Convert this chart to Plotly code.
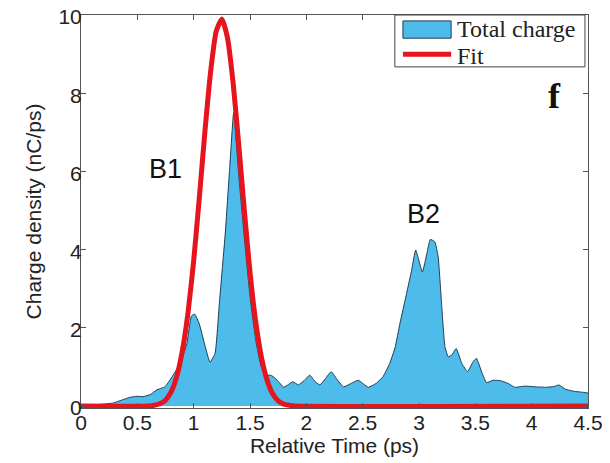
import plotly.graph_objects as go

# Total charge profile
time_ps = [
    0, 0.1, 0.2, 0.29, 0.36, 0.43, 0.5, 0.55, 0.62, 0.67,
    0.745, 0.8, 0.88, 0.94, 0.98, 1.01, 1.05, 1.10, 1.145, 1.19,
    1.23, 1.28, 1.32, 1.355, 1.40, 1.45, 1.50, 1.55, 1.60, 1.65,
    1.69, 1.72, 1.76, 1.80, 1.84, 1.88, 1.93, 1.98, 2.03, 2.08,
    2.12, 2.17, 2.22, 2.28, 2.33, 2.40, 2.46, 2.55, 2.62, 2.68,
    2.74, 2.79, 2.83, 2.89, 2.935, 2.97, 2.99, 3.03, 3.07, 3.10,
    3.14, 3.17, 3.20, 3.23, 3.26, 3.29, 3.33, 3.38, 3.43, 3.48,
    3.51, 3.56, 3.60, 3.66, 3.72, 3.79, 3.85, 3.94, 4.04, 4.13,
    4.20, 4.24, 4.30, 4.37, 4.46, 4.5,
]
charge = [
    0.02, 0.03, 0.05, 0.08, 0.15, 0.22, 0.25, 0.24, 0.30, 0.41,
    0.49, 0.71, 1.09, 1.60, 2.30, 2.35, 2.10, 1.55, 1.12, 1.35,
    2.70, 4.40, 6.10, 7.50, 5.90, 4.30, 2.80, 1.70, 1.00, 0.80,
    0.78, 0.72, 0.60, 0.48, 0.55, 0.62, 0.54, 0.65, 0.79, 0.62,
    0.54, 0.70, 0.88, 0.65, 0.49, 0.58, 0.66, 0.48, 0.58, 0.75,
    1.09, 1.52, 2.10, 2.88, 3.48, 3.99, 3.82, 3.43, 3.90, 4.26,
    4.20, 3.82, 2.63, 1.52, 1.26, 1.30, 1.47, 1.09, 0.88, 1.13,
    1.22, 0.84, 0.60, 0.66, 0.65, 0.58, 0.48, 0.51, 0.49, 0.48,
    0.50, 0.54, 0.43, 0.38, 0.35, 0.33,
]

# Fit curve
fit_x = [0, 0.6, 0.65, 0.7, 0.75, 0.8, 0.85, 0.9, 0.95, 1.0,
         1.05, 1.1, 1.15, 1.2, 1.25, 1.3, 1.35, 1.4, 1.45, 1.5,
         1.55, 1.6, 1.65, 1.7, 1.75, 1.8, 1.85, 1.9, 4.5]
fit_y = [0, 0.0, 0.02, 0.06, 0.15, 0.36, 0.76, 1.42, 2.39, 3.71,
         5.32, 7.02, 8.54, 9.58, 9.9, 9.42, 8.27, 6.69, 4.99, 3.42,
         2.17, 1.27, 0.68, 0.32, 0.13, 0.05, 0.02, 0.0, 0]

x_ticks = [0, 0.5, 1, 1.5, 2, 2.5, 3, 3.5, 4, 4.5]
x_tick_labels = ["0", "0.5", "1", "1.5", "2", "2.5", "3", "3.5", "4", "4.5"]
y_ticks = [0, 2, 4, 6, 8, 10]
y_tick_labels = ["0", "2", "4", "6", "8", "10"]

SANS = "Liberation Sans, Arial, sans-serif"
SERIF = "Liberation Serif, Times New Roman, serif"
AX = "#555555"
FILL = "rgb(77,188,234)"
EDGE = "#1e3d52"
RED = "#e6141c"

fig = go.Figure()
fig.add_trace(go.Scatter(
    x=time_ps, y=charge, mode="lines", name="Total charge",
    fill="tozeroy", fillcolor=FILL,
    line=dict(color=EDGE, width=1, shape="spline", smoothing=0.4),
))
fig.add_trace(go.Scatter(
    x=fit_x, y=fit_y, mode="lines", name="Fit",
    line=dict(color=RED, width=5, shape="spline", smoothing=0.5),
))

fig.add_annotation(x=0.754, y=6.06, text="B1", showarrow=False,
                   font=dict(family=SANS, size=27, color="#111111"))
fig.add_annotation(x=3.044, y=4.91, text="B2", showarrow=False,
                   font=dict(family=SANS, size=27, color="#111111"))
fig.add_annotation(x=4.2, y=7.93, text="<b>f</b>", showarrow=False,
                   font=dict(family=SERIF, size=36, color="#111111"))

# Legend box (drawn in axis-domain coordinates)
fig.add_shape(type="rect", xref="x domain", yref="y domain",
              x0=0.619, x1=0.994, y0=0.868, y1=1.0,
              line=dict(color="#444444", width=1), fillcolor="white", layer="above")
fig.add_shape(type="rect", xref="x domain", yref="y domain",
              x0=0.635, x1=0.730, y0=0.941, y1=0.985,
              line=dict(color=EDGE, width=1), fillcolor=FILL, layer="above")
fig.add_shape(type="line", xref="x domain", yref="y domain",
              x0=0.635, x1=0.730, y0=0.900, y1=0.900,
              line=dict(color=RED, width=5), layer="above")
fig.add_annotation(xref="x domain", yref="y domain", x=0.738, y=0.965,
                   xanchor="left", yanchor="middle", text="Total charge",
                   showarrow=False, font=dict(family=SERIF, size=24, color="#222222"))
fig.add_annotation(xref="x domain", yref="y domain", x=0.738, y=0.896,
                   xanchor="left", yanchor="middle", text="Fit",
                   showarrow=False, font=dict(family=SERIF, size=24, color="#222222"))

axis_common = dict(
    showline=True, linecolor=AX, linewidth=1, mirror="ticks",
    ticks="inside", ticklen=5, tickcolor=AX, tickwidth=1,
    showgrid=False, zeroline=False, automargin=False,
    ticklabeloverflow="allow",
    tickfont=dict(family=SANS, size=21, color="#222222"),
)

fig.update_xaxes(range=[0, 4.5], tickvals=x_ticks, ticktext=x_tick_labels,
                 ticklabelstandoff=-4,
                 title=dict(text="Relative Time (ps)", standoff=2,
                            font=dict(family=SANS, size=21, color="#222222")),
                 **axis_common)
fig.update_yaxes(range=[-0.05, 10], tickvals=y_ticks, ticktext=y_tick_labels,
                 ticklabelstandoff=-6, ticklabelshift=2,
                 title=dict(text="Charge density (nC/ps)", standoff=11,
                            font=dict(family=SANS, size=21, color="#222222")),
                 **axis_common)

# The page body has an 8px default margin, so the figure is offset by 8px.
fig.update_layout(
    width=602, height=455,
    margin=dict(l=73, r=22, t=7, b=55),
    paper_bgcolor="white", plot_bgcolor="white",
    showlegend=False,
)

fig.write_html("out.html")
